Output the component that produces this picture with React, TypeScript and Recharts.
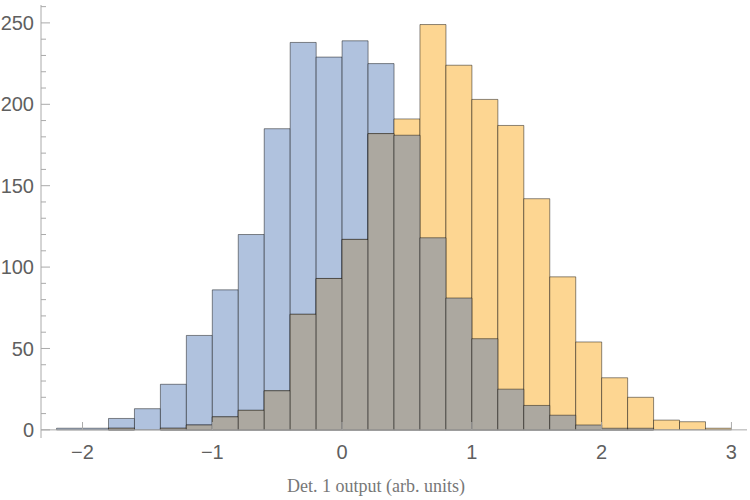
import { ComposedChart, Bar, XAxis, YAxis, ReferenceLine, Label } from "recharts";

// histogram bins, width 0.2, centres
const binCenters = [
  -2.1, -1.9, -1.7, -1.5, -1.3, -1.1, -0.9, -0.7, -0.5, -0.3, -0.1, 0.1, 0.3,
  0.5, 0.7, 0.9, 1.1, 1.3, 1.5, 1.7, 1.9, 2.1, 2.3, 2.5, 2.7, 2.9,
];

// blue histogram
const blueCounts = [
  1, 1, 7, 13, 28, 58, 86, 120, 185, 238, 229, 239, 225, 181, 118, 81, 56, 25,
  15, 9, 3, 1, 1, 0, 0, 0,
];

// orange histogram
const orangeCounts = [
  0, 0, 1, 0, 1, 3, 8, 12, 24, 71, 93, 117, 182, 191, 249, 224, 203, 187, 142,
  94, 54, 32, 20, 6, 5, 1,
];

const xTicks = [-2, -1, 0, 1, 2, 3];
const yTicks = [
  0, 10, 20, 30, 40, 50, 60, 70, 80, 90, 100, 110, 120, 130, 140, 150, 160,
  170, 180, 190, 200, 210, 220, 230, 240, 250, 260,
];

const data = binCenters.map((x, i) => ({
  x,
  blue: blueCounts[i],
  orange: orangeCounts[i],
  overlap: Math.min(blueCounts[i], orangeCounts[i]),
}));

const axisColor = "#aaaaaa";
const tickFont = { fontFamily: "Liberation Sans, Arial, sans-serif", fontSize: 20, fill: "#5f5f5f" };

const YTick = (props: any) => {
  const { x, y, payload } = props;
  const major = payload.value % 50 === 0;
  return (
    <g>
      <line x1={x} x2={x + (major ? 9 : 5)} y1={y} y2={y} stroke={axisColor} />
      {major && (
        <text x={x - 7} y={y} dy="0.36em" textAnchor="end" {...tickFont}>
          {payload.value}
        </text>
      )}
    </g>
  );
};

const XTick = (props: any) => {
  const { x, y, payload } = props;
  const v = payload.value;
  return (
    <g>
      <line x1={x} x2={x} y1={y - 8} y2={y - 16} stroke={axisColor} />
      <text x={x} y={y + 14} dy="0.36em" textAnchor="middle" {...tickFont}>
        {v < 0 ? "\u2212" + Math.abs(v) : v}
      </text>
    </g>
  );
};

const barStroke = { stroke: "#000", strokeOpacity: 0.45, strokeWidth: 1 };

export default function App() {
  return (
    <div style={{ position: "absolute", left: 0, top: 0 }}>
      <ComposedChart
        width={750}
        height={500}
        data={data}
        barCategoryGap={0}
        barGap={0}
        margin={{ top: 5, right: 3, left: 0, bottom: 0 }}
      >
        <XAxis
          xAxisId="main"
          dataKey="x"
          type="number"
          domain={[-2.32, 3.12]}
          allowDataOverflow
          ticks={xTicks}
          interval={0}
          height={62}
          axisLine={false}
          tickLine={false}
          tickSize={0}
          tickMargin={0}
          tick={<XTick />}
        >
          <Label
            value="Det. 1 output (arb. units)"
            position="insideBottom"
            offset={8}
            dx={-18}
            style={{ fontFamily: "Liberation Serif, Times New Roman, serif", fontSize: 18, fill: "#777" }}
          />
        </XAxis>
        <XAxis xAxisId="second" dataKey="x" type="number" domain={[-2.32, 3.12]} allowDataOverflow hide />
        <XAxis xAxisId="third" dataKey="x" type="number" domain={[-2.32, 3.12]} allowDataOverflow hide />
        <YAxis
          type="number"
          domain={[-5, 261]}
          ticks={yTicks}
          interval={0}
          width={41}
          axisLine={{ stroke: axisColor }}
          tickLine={false}
          tickSize={0}
          tickMargin={0}
          tick={<YTick />}
        />
        <ReferenceLine xAxisId="main" y={0} stroke={axisColor} />
        <Bar xAxisId="main" dataKey="blue" fill="#b0c2de" {...barStroke} isAnimationActive={false} />
        <Bar xAxisId="second" dataKey="orange" fill="#fdd692" {...barStroke} isAnimationActive={false} />
        <Bar xAxisId="third" dataKey="overlap" fill="#aca8a0" {...barStroke} isAnimationActive={false} />
      </ComposedChart>
    </div>
  );
}
